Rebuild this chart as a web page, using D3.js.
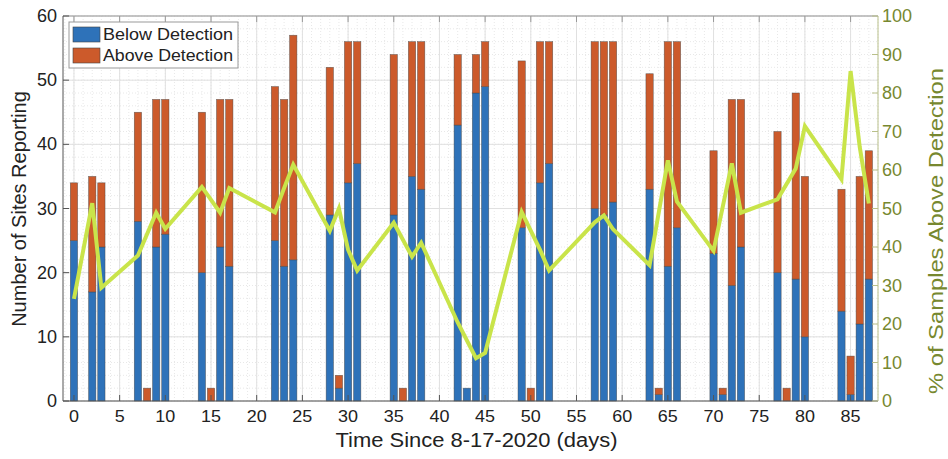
<!DOCTYPE html>
<html>
<head>
<meta charset="UTF-8">
<title>Sites Reporting</title>
<script src="https://cdn.jsdelivr.net/npm/d3@7"></script>
<style>
  body { margin: 0; background: #fff; }
  text { font-family: "Liberation Sans", Arial, sans-serif; }
</style>
</head>
<body>
<svg width="948" height="459"></svg>
<script>
// days with reports, sites below / above detection
var days  = [0,2,3,7,8,9,10,14,15,16,17,22,23,24,28,29,30,31,35,36,37,38,42,43,44,45,49,50,51,52,57,58,59,63,64,65,66,70,71,72,73,77,78,79,80,84,85,86,87];
var below = [25,17,24,28,0,24,26,20,0,24,21,25,21,22,29,2,34,37,29,0,35,33,43,2,48,49,27,0,34,37,30,29,31,33,1,21,27,23,1,18,24,20,0,19,10,14,1,12,19];
var above = [9,18,10,17,2,23,21,25,2,23,26,24,26,35,23,2,22,19,25,2,21,23,11,0,6,7,26,2,22,19,26,27,25,18,1,35,29,16,1,29,23,22,2,29,25,19,6,23,20];

// % of samples above detection (right axis)
var pctDays = [0,2,3,7,9,10,14,16,17,22,23,24,28,29,30,31,35,37,38,42,44,45,49,51,52,57,58,59,63,65,66,70,72,73,77,79,80,84,85,86,87];
var pct     = [26.5,51.4,29.4,37.8,48.9,44.7,55.6,48.9,55.3,49,55.3,61.4,44.2,50,39.3,33.9,46.3,37.5,41.1,20.4,11.1,12.5,49.1,39.3,33.9,46.4,48.2,44.6,35.3,62.5,51.8,39,61.7,48.9,52.4,60.4,71.4,57.6,85.7,66,51.3];

var xTicks = d3.range(0, 86, 5);
var yTicks = d3.range(0, 61, 10);
var pTicks = d3.range(0, 101, 10);

var blue = "#2e72b9", orange = "#cc5a2b", lime = "#c9e44a", olive = "#77882f";

var svg = d3.select("svg");
var L = 63, R = 878, T = 16, B = 401;

var x = d3.scaleLinear().domain([-1.2, 88]).range([L, R]);
var y = d3.scaleLinear().domain([0, 60]).range([B, T]);
var yp = d3.scaleLinear().domain([0, 100]).range([B, T]);

// grid
var grid = svg.append("g");
grid.selectAll(".mx").data(d3.range(-1, 89)).enter().append("line")
    .attr("x1", d => x(d)).attr("x2", d => x(d)).attr("y1", T).attr("y2", B)
    .attr("stroke", "#e8e8e8").attr("stroke-dasharray", "1,2");
grid.selectAll(".my").data(d3.range(0, 61, 2)).enter().append("line")
    .attr("x1", L).attr("x2", R).attr("y1", d => y(d)).attr("y2", d => y(d))
    .attr("stroke", "#e8e8e8").attr("stroke-dasharray", "1,2");
grid.selectAll(".gx").data(xTicks).enter().append("line")
    .attr("x1", d => x(d)).attr("x2", d => x(d)).attr("y1", T).attr("y2", B)
    .attr("stroke", "#e0e0e0");
grid.selectAll(".gy").data(yTicks).enter().append("line")
    .attr("x1", L).attr("x2", R).attr("y1", d => y(d)).attr("y2", d => y(d))
    .attr("stroke", "#e0e0e0");

// stacked bars
var rows = days.map(function(d, i) { return {day: d, below: below[i], above: above[i]}; });
var stack = d3.stack().keys(["below", "above"])(rows);
var colors = [blue, orange];
var bw = x(0.4) - x(0);

stack.forEach(function(layer, k) {
    svg.append("g").selectAll("rect")
        .data(layer.filter(function(s) { return s[1] > s[0]; }))
        .enter().append("rect")
        .attr("x", s => x(s.data.day) - bw)
        .attr("width", bw * 2)
        .attr("y", s => y(s[1]))
        .attr("height", s => y(s[0]) - y(s[1]))
        .attr("fill", colors[k])
        .attr("stroke", "#444").attr("stroke-width", 0.6).attr("stroke-opacity", 0.7);
});

// percentage line
var line = d3.line().x(function(d, i) { return x(pctDays[i]); }).y(d => yp(d));
svg.append("path").datum(pct)
    .attr("d", line).attr("fill", "none")
    .attr("stroke", lime).attr("stroke-width", 4).attr("stroke-linejoin", "miter");

// box and ticks
var ax = svg.append("g");
ax.append("line").attr("x1", L).attr("x2", R).attr("y1", T).attr("y2", T).attr("stroke", "#999");
ax.append("line").attr("x1", L).attr("x2", R).attr("y1", B).attr("y2", B).attr("stroke", "#555");
ax.append("line").attr("x1", L).attr("x2", L).attr("y1", T).attr("y2", B).attr("stroke", "#555");
ax.append("line").attr("x1", R).attr("x2", R).attr("y1", T).attr("y2", B).attr("stroke", "#b9c08a");

xTicks.forEach(function(t) {
    ax.append("line").attr("x1", x(t)).attr("x2", x(t)).attr("y1", B).attr("y2", B - 6).attr("stroke", "#555");
    ax.append("line").attr("x1", x(t)).attr("x2", x(t)).attr("y1", T).attr("y2", T + 6).attr("stroke", "#999");
    ax.append("text").attr("x", x(t)).attr("y", B + 21).attr("text-anchor", "middle")
        .attr("font-size", 17).attr("fill", "#222")
        .attr("textLength", String(t).length * 10).attr("lengthAdjust", "spacingAndGlyphs")
        .text(t);
});
yTicks.forEach(function(t) {
    ax.append("line").attr("x1", L).attr("x2", L + 6).attr("y1", y(t)).attr("y2", y(t)).attr("stroke", "#555");
    ax.append("text").attr("x", L - 6).attr("y", y(t) + 6).attr("text-anchor", "end")
        .attr("font-size", 18).attr("fill", "#222").text(t);
});
pTicks.forEach(function(t) {
    ax.append("line").attr("x1", R).attr("x2", R - 6).attr("y1", yp(t)).attr("y2", yp(t)).attr("stroke", "#b9c08a");
    ax.append("text").attr("x", R + 4).attr("y", yp(t) + 6).attr("text-anchor", "start")
        .attr("font-size", 18).attr("fill", olive).text(t);
});

// axis titles
svg.append("text").attr("x", (L + R) / 2 + 6).attr("y", 447).attr("text-anchor", "middle")
    .attr("font-size", 20).attr("fill", "#222")
    .attr("textLength", 282).attr("lengthAdjust", "spacingAndGlyphs")
    .text("Time Since 8-17-2020 (days)");
svg.append("text").attr("transform", "translate(26,209) rotate(-90)").attr("text-anchor", "middle")
    .attr("font-size", 20).attr("fill", "#222")
    .text("Number of Sites Reporting");
svg.append("text").attr("transform", "translate(943,231) rotate(-90)").attr("text-anchor", "middle")
    .attr("font-size", 20).attr("fill", olive)
    .attr("textLength", 326).attr("lengthAdjust", "spacingAndGlyphs")
    .text("% of Samples Above Detection");

// legend
var lg = svg.append("g");
lg.append("rect").attr("x", 69).attr("y", 22).attr("width", 169).attr("height", 46)
    .attr("fill", "#fff").attr("stroke", "#999");
[["Below Detection", blue], ["Above Detection", orange]].forEach(function(e, i) {
    lg.append("rect").attr("x", 73).attr("y", 27 + i * 21).attr("width", 27).attr("height", 15)
        .attr("fill", e[1]).attr("stroke", "#444").attr("stroke-width", 0.6);
    lg.append("text").attr("x", 103).attr("y", 40 + i * 21).attr("font-size", 17).attr("fill", "#222")
        .attr("textLength", 130).attr("lengthAdjust", "spacingAndGlyphs")
        .text(e[0]);
});
</script>
</body>
</html>
